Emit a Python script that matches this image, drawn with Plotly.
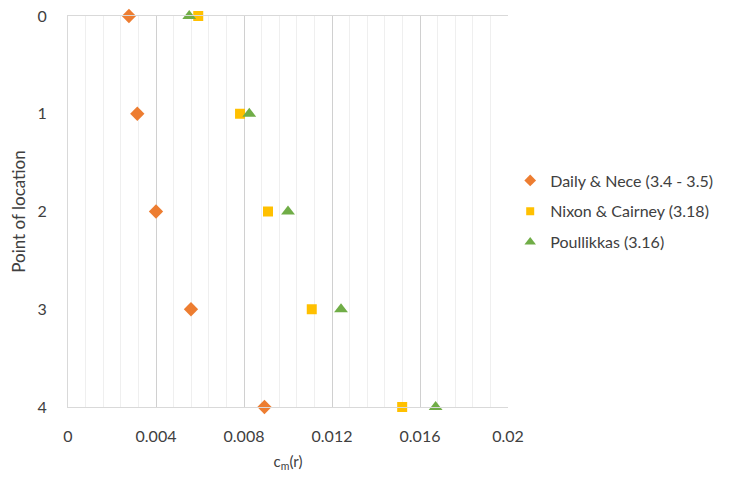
import plotly.graph_objects as go

locations = [0, 1, 2, 3, 4]
daily_nece = [0.00277, 0.00315, 0.0040, 0.00559, 0.00893]
nixon_cairney = [0.00592, 0.00782, 0.00909, 0.01108, 0.01519]
poullikkas = [0.00551, 0.00824, 0.0100, 0.01241, 0.01671]

series_names = ["Daily & Nece (3.4 - 3.5)", "Nixon & Cairney (3.18)", "Poullikkas (3.16)"]
x_tickvals = [0, 0.004, 0.008, 0.012, 0.016, 0.02]
x_ticktext = ["0", "0.004", "0.008", "0.012", "0.016", "0.02"]
y_tickvals = [0, 1, 2, 3, 4]

AXFONT = "Lato, 'Open Sans', sans-serif"
LEGFONT = "Lato, 'Open Sans', sans-serif"
TXT = "#404040"

colors = ["#ED7D31", "#FFC000", "#70AD47"]
symbols = ["diamond", "square", "triangle-up"]
sizes = [11, 10, 12]
legend_sizes = [9, 8, 10]
series = [daily_nece, nixon_cairney, poullikkas]

fig = go.Figure()
for name, vals, c, s, sz in zip(series_names, series, colors, symbols, sizes):
    fig.add_trace(go.Scatter(x=vals, y=locations, mode="markers", name=name, showlegend=False,
                             marker=dict(symbol=s, size=sz, color=c), cliponaxis=False))
# legend entries with smaller markers, as in the reference
for i, (name, c, s, sz) in enumerate(zip(series_names, colors, symbols, legend_sizes)):
    fig.add_trace(go.Scatter(x=[None], y=[None], mode="markers", name=name, legendgroup=str(i),
                             marker=dict(symbol=s, size=sz, color=c)))

fig.update_layout(
    width=730, height=479,
    margin=dict(l=68, r=222, t=16, b=72, autoexpand=False),
    paper_bgcolor="white", plot_bgcolor="white",
    font=dict(family=AXFONT, size=15, color=TXT),
    showlegend=True,
    legend=dict(x=1.005, y=0.5, xanchor="left", yanchor="middle",
                font=dict(family=LEGFONT, size=16, color=TXT), itemsizing="trace",
                tracegroupgap=7, itemwidth=30, bgcolor="rgba(0,0,0,0)"),
    xaxis=dict(range=[0, 0.02], tickvals=x_tickvals, ticktext=x_ticktext, automargin=False,
               showgrid=True, gridcolor="#d0d0d0", gridwidth=1,
               minor=dict(dtick=0.0008, showgrid=True, gridcolor="#efefef", gridwidth=1),
               showline=True, linecolor="#d9d9d9", mirror=True, zeroline=False,
               ticks="", ticklabelstandoff=15, tickfont=dict(family=AXFONT, size=16),
               title=dict(text="c<sub>m</sub>(r)", font=dict(family=AXFONT, size=15, color=TXT), standoff=12)),
    yaxis=dict(range=[4, 0], tickvals=y_tickvals, showgrid=False, zeroline=False, automargin=False,
               showline=True, linecolor="#d9d9d9", ticks="", ticklabelstandoff=17,
               tickfont=dict(family=AXFONT, size=16),
               title=dict(text="Point of location", font=dict(family=AXFONT, size=17, color=TXT), standoff=7)),
)

fig.write_html("out.html", config={"displayModeBar": False},
               post_script="document.body.style.margin='0';document.body.style.padding='0';")
